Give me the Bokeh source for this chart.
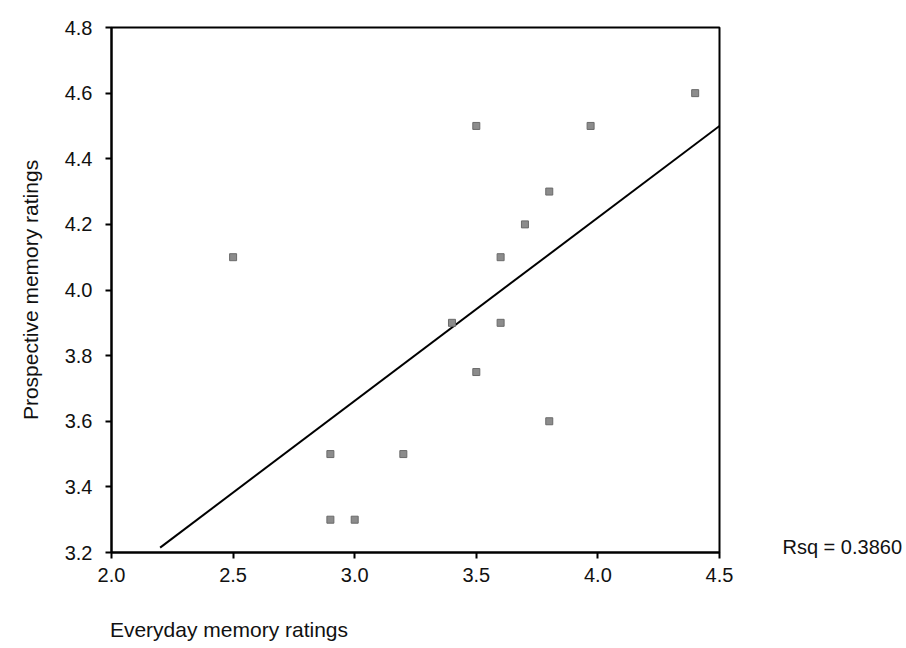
from bokeh.plotting import figure
from bokeh.models import Range1d, FixedTicker, NumeralTickFormatter, LinearAxis
from bokeh.embed import file_html
from bokeh.resources import INLINE

# Data
everyday = [2.5, 2.9, 2.9, 3.0, 3.2, 3.4, 3.5, 3.5, 3.6, 3.6, 3.7, 3.8, 3.8, 3.97, 4.4]
prospective = [4.1, 3.5, 3.3, 3.3, 3.5, 3.9, 4.5, 3.75, 4.1, 3.9, 4.2, 4.3, 3.6, 4.5, 4.6]
fit_x = [2.2, 4.5]
fit_y = [3.215, 4.5]
x_ticks = [2.0, 2.5, 3.0, 3.5, 4.0, 4.5]
y_ticks = [3.2, 3.4, 3.6, 3.8, 4.0, 4.2, 4.4, 4.6, 4.8]
rsq_text = "Rsq = 0.3860"
x_title = "Everyday memory ratings"
y_title = "Prospective memory ratings"

FONT = "Liberation Sans"
TXT = "#111111"
RSQ_POS = 3.218     # vertical placement of the Rsq note (just above the x axis)
XTITLE_POS = 2.483  # horizontal centre of the left-aligned x title

p = figure(width=906, height=648, output_backend="svg", toolbar_location=None,
           x_range=Range1d(2.0, 4.5), y_range=Range1d(3.2, 4.8),
           min_border_left=111, min_border_right=187, min_border_top=27, min_border_bottom=96)
p.background_fill_color = "white"
p.border_fill_color = "white"
p.outline_line_color = "black"
p.outline_line_width = 2
p.xgrid.visible = False
p.ygrid.visible = False

for ax in (p.xaxis[0], p.yaxis[0]):
    ax.axis_line_width = 2
    ax.axis_line_color = "black"
    ax.major_tick_line_width = 2
    ax.major_tick_line_color = "black"
    ax.major_tick_out = 6
    ax.major_tick_in = 0
    ax.minor_tick_line_color = None
    ax.major_label_text_font = FONT
    ax.major_label_text_font_size = "20px"
    ax.major_label_text_color = TXT
    ax.formatter = NumeralTickFormatter(format="0.0")

p.xaxis.ticker = FixedTicker(ticks=x_ticks)
p.yaxis.ticker = FixedTicker(ticks=y_ticks)
p.xaxis.major_label_standoff = 9
p.yaxis.major_label_standoff = 13

p.yaxis.axis_label = y_title
p.yaxis.axis_label_text_font = FONT
p.yaxis.axis_label_text_font_size = "21px"
p.yaxis.axis_label_text_font_style = "normal"
p.yaxis.axis_label_text_color = TXT
p.yaxis.axis_label_standoff = 20


def note_axis(ticks, overrides, standoff, size):
    return LinearAxis(ticker=FixedTicker(ticks=ticks), major_label_overrides=overrides,
                      axis_line_color=None, major_tick_line_color=None, minor_tick_line_color=None,
                      major_tick_out=0, major_tick_in=0,
                      major_label_standoff=standoff, major_label_text_font=FONT,
                      major_label_text_font_size=size, major_label_text_color=TXT)


# x title, left-aligned under the frame
p.add_layout(note_axis([XTITLE_POS], {XTITLE_POS: x_title}, 33, "21px"), "below")

# Rsq note on the right, just above the x axis level
p.add_layout(note_axis([RSQ_POS], {RSQ_POS: rsq_text}, 63, "20px"), "right")

p.line(fit_x, fit_y, line_color="black", line_width=2)
p.scatter(everyday, prospective, marker="square", size=7,
          fill_color="#8c8c8c", line_color="#6a6a6a", line_width=1)

open("out.html", "w").write(file_html(p, INLINE))
